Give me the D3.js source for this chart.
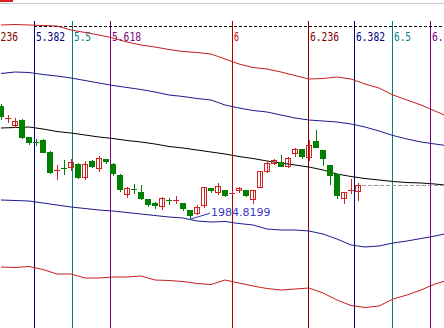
<!DOCTYPE html>
<html><head><meta charset="utf-8">
<script src="https://cdn.jsdelivr.net/npm/d3@7"></script>
<style>html,body{margin:0;padding:0;background:#fff;overflow:hidden}svg{display:block}</style>
</head><body>
<svg id="c" width="444" height="328"></svg>
<script>
// ---- data ----
const candleOpen  = [2098,2086,2079,2084,2067,2062.5,2064,2052,2033.5,2036.5,2037,2040,2027,2043,2036,2045,2040,2029,2010,2015.5,2012,2005,2001,1998,2004.5,2004,2001,1994,1991,1999,2016,2012,2014,2011,2014,2014,2005,2017,2033,2041,2042,2038,2051,2055,2047,2063,2054,2039,2030,2006,2013.5,2013];
const candleHigh  = [2100,2089,2086,2085,2067,2065,2065,2053,2039,2044,2045,2041,2043,2044,2048,2045,2041,2030,2017,2020,2019,2005,2002,2007,2006,2008,2001,1994,1999,2017,2016,2021,2014,2013,2017,2014,2014,2033,2043,2045,2049,2047,2056,2055,2064,2074,2054,2039,2030,2012,2025,2021];
const candleLow   = [2085,2082,2077,2066,2060,2059,2052,2031,2025,2030,2034,2026,2025,2037,2033,2041,2029,2013,2007,2011,2005,1998,1996,1995,2000,2001,1994,1984.8199,1990,1997,2012,2010,2008,2010,2012,2008,2001,2017,2032,2040,2038,2037,2048,2046,2044,2057,2039,2020,2006,2001,2011,2004];
const candleClose = [2088,2086.5,2083,2067,2062,2062,2052,2032,2034,2036,2042,2027,2040,2038,2046,2043,2031,2015,2016,2015,2006,2000,1999,2006,2004,2004.5,1996,1989,1997,2017,2014,2018,2009,2011.5,2016,2009,2014,2033,2041,2044,2038,2046,2055,2048,2059,2057,2046,2029,2009,2012,2014,2019];

// band sample positions (candle index) and values
const bandIndex   = d3.range(0, 65, 2);
const upperOuter  = [2179,2179.5,2179,2178.5,2178,2174,2171.5,2169,2166,2162,2159,2157,2154.5,2152.5,2151.5,2150,2145,2140,2136.5,2135,2132,2128.5,2125,2125.5,2127,2125,2120,2116,2109,2104,2099,2093,2087];
const upperInner  = [2130.5,2132,2131.5,2129.5,2128,2126,2123.5,2121,2118.5,2116.5,2114.5,2112,2109,2107.5,2105.5,2104,2099,2096,2093.5,2092,2089,2086,2084,2083,2082,2080,2077,2073,2068.5,2065,2062,2060,2058];
const middleLine  = [2076,2076.5,2077,2075,2072.5,2071,2069,2067,2065.5,2063.5,2062,2060,2057.5,2056,2054,2052,2050,2047.5,2045.5,2043,2041,2039,2037,2034,2030,2027.5,2025.5,2024,2022.5,2021.5,2021,2020,2018.5];
const lowerInner  = [2004,2003.5,2003,2001,1999,1997,1995.5,1994,1993,1991.5,1990,1988.5,1987,1986,1983,1982,1982.5,1980.5,1979,1975,1974,1974,1973,1970,1965,1959,1957,1958,1961,1963,1965.5,1968,1971];
const lowerOuter  = [1937,1936.5,1937.5,1934.5,1930,1930,1926,1926,1927,1927,1928,1924,1923.5,1922.5,1920.5,1919.5,1924,1921,1918,1915.5,1914,1915,1916,1911,1904,1898.5,1896.5,1898,1905,1909,1914,1920,1924];

// Fibonacci time zones
const fibLabels = ["5.236","5.382","5.5","5.618","6","6.236","6.382","6.5","6.618"];
const fibRatios = [5.236,5.382,5.5,5.618,6,6.236,6.382,6.5,6.618];
const fibColors = ["#800000","#000080","#008080","#800080","#b00000","#800000","#000080","#008080","#800080"];
const fibAnchorIndex = 33, fibAnchorRatio = 6, fibUnit = 45.77;
const lowLabel = "1984.8199";

// ---- scales ----
const W = 444, H = 328;
const svg = d3.select("#c");
const x = d3.scaleLinear().domain([0, 51]).range([1, 358]);
const y = d3.scaleLinear().domain([1876, 2204]).range([328, 0]);
const fibX = r => x(fibAnchorIndex + (r - fibAnchorRatio) * fibUnit);

// top strip
svg.append("rect").attr("x",0).attr("y",0).attr("width",13).attr("height",2).attr("fill","#e02020");
svg.append("line").attr("x1",0).attr("x2",W).attr("y1",3.5).attr("y2",3.5).attr("stroke","#c8c8c8");

// fib vertical lines + labels
fibRatios.forEach((r,i)=>{
  const px = Math.round(fibX(r)) + 0.5;
  svg.append("line").attr("x1",px).attr("x2",px).attr("y1",21).attr("y2",H)
     .attr("stroke",fibColors[i]).attr("stroke-width",1);
  svg.append("text").attr("x",px+1.5).attr("y",41).text(fibLabels[i])
     .attr("fill",fibColors[i]).attr("font-family","DejaVu Sans Mono, monospace")
     .attr("font-size",12).attr("textLength",fibLabels[i].length*6-1).attr("lengthAdjust","spacingAndGlyphs");
});
// dashed top line
svg.append("line").attr("x1",Math.round(fibX(fibRatios[1]))).attr("x2",W).attr("y1",26.5).attr("y2",26.5)
   .attr("stroke","#000").attr("stroke-dasharray","3,2");

// bands
const line = vals => d3.line().x((d,i)=>x(bandIndex[i])).y(d=>y(d))(vals);
[[upperOuter,"#c41e1e"],[upperInner,"#1c1c8c"],[middleLine,"#000"],[lowerInner,"#1c1c8c"],[lowerOuter,"#c41e1e"]]
  .forEach(([vals,col])=>{
    svg.append("path").attr("d",line(vals)).attr("fill","none").attr("stroke",col).attr("stroke-width",1);
  });

// last close dashed line
const lastI = candleClose.length-1;
const lastY = Math.round(y(candleClose[lastI]))+0.5;
svg.append("line").attr("x1",x(lastI)+4).attr("x2",W).attr("y1",lastY).attr("y2",lastY)
   .attr("stroke","#999").attr("stroke-dasharray","4,2");

// candles
const red = "#d42020", green = "#008000";
const g = svg.append("g");
candleOpen.forEach((o,i)=>{
  const c = candleClose[i], hi = candleHigh[i], lo = candleLow[i];
  const up = c >= o;
  const col = up ? red : green;
  const cx = Math.round(x(i));
  const wx = cx + 0.5;
  const yTop = y(Math.max(o,c)), yBot = y(Math.min(o,c));
  g.append("line").attr("x1",wx).attr("x2",wx).attr("y1",Math.round(y(hi))).attr("y2",Math.round(y(lo))+1).attr("stroke",col);
  if (yBot - yTop < 1.5) {
    const yy = Math.round((yTop+yBot)/2)+0.5;
    g.append("line").attr("x1",cx-3).attr("x2",cx+3).attr("y1",yy).attr("y2",yy).attr("stroke",col);
  } else if (up) {
    g.append("rect").attr("x",cx-2.5).attr("y",Math.round(yTop)+0.5).attr("width",5)
     .attr("height",Math.max(1,Math.round(yBot)-Math.round(yTop))).attr("fill","none").attr("stroke",col);
  } else {
    g.append("rect").attr("x",cx-3).attr("y",Math.round(yTop)).attr("width",6)
     .attr("height",Math.max(1,Math.round(yBot)-Math.round(yTop)+1)).attr("fill",col);
  }
});

// low annotation
const lowI = candleLow.indexOf(d3.min(candleLow));
svg.append("line").attr("x1",x(lowI)+0.5).attr("y1",y(candleLow[lowI])).attr("x2",x(lowI)+20).attr("y2",y(candleLow[lowI])-6)
   .attr("stroke","#3030c0");
svg.append("text").attr("x",x(lowI)+21).attr("y",y(candleLow[lowI])-3).text(lowLabel)
   .attr("fill","#3a3ac8").attr("font-family","DejaVu Sans, sans-serif").attr("font-size",11);
</script>
</body></html>
